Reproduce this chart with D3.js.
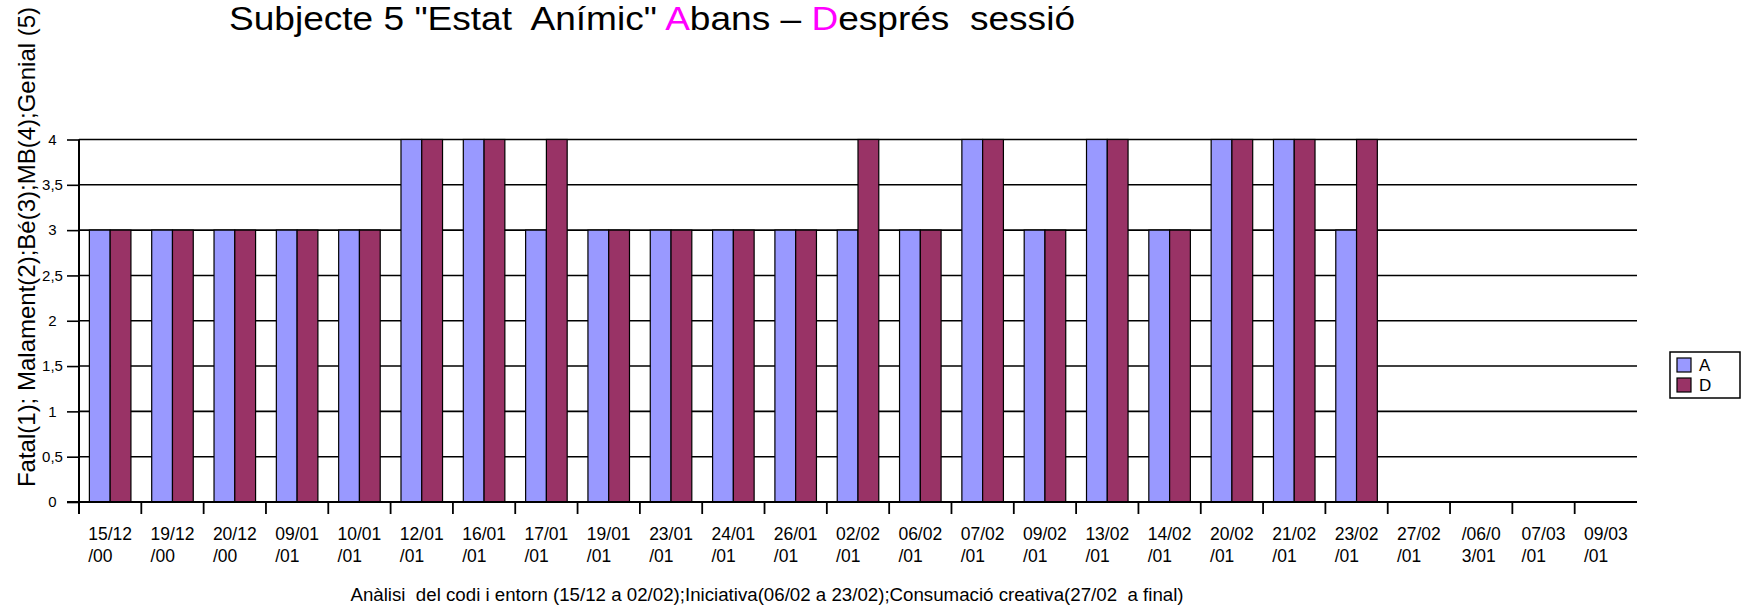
<!DOCTYPE html>
<html>
<head>
<meta charset="utf-8">
<script src="https://cdn.jsdelivr.net/npm/d3@7/dist/d3.min.js"></script>
<style>
  html, body { margin: 0; padding: 0; background: #fff; }
  svg { display: block; font-family: "Liberation Sans", Arial, sans-serif; }
</style>
</head>
<body>
<svg id="chart" width="1742" height="611"></svg>
<script>
const categories = ["15/12/00","19/12/00","20/12/00","09/01/01","10/01/01","12/01/01","16/01/01","17/01/01","19/01/01","23/01/01","24/01/01","26/01/01","02/02/01","06/02/01","07/02/01","09/02/01","13/02/01","14/02/01","20/02/01","21/02/01","23/02/01","27/02/01","/06/03/01","07/03/01","09/03/01"];
const seriesA = [3,3,3,3,3,4,4,3,3,3,3,3,3,3,4,3,4,3,4,4,3,0,0,0,0];
const seriesD = [3,3,3,3,3,4,4,4,3,3,3,3,4,3,4,3,4,3,4,4,4,0,0,0,0];
const seriesNames = ["A","D"];
const seriesColors = ["#9999FF","#993366"];
const yTicks = [0,0.5,1,1.5,2,2.5,3,3.5,4];
const titleParts = [
  {t: "Subjecte 5 \"Estat  Anímic\" ", c: "#000"},
  {t: "A", c: "#FF00FF"},
  {t: "bans – ", c: "#000"},
  {t: "D", c: "#FF00FF"},
  {t: "esprés  sessió", c: "#000"}
];
const yTitle = "Fatal(1); Malament(2);Bé(3);MB(4);Genial (5)";
const xTitle = "Anàlisi  del codi i entorn (15/12 a 02/02);Iniciativa(06/02 a 23/02);Consumació creativa(27/02  a final)";

const svg = d3.select("#chart");
const pLeft = 79, pRight = 1637, pTop = 139.5, pBottom = 502;
const x = d3.scaleBand().domain(categories).range([pLeft, pRight]).padding(0);
const bw = x.bandwidth();
const xi = d3.scaleBand().domain(seriesNames).range([bw / 6, bw * 5 / 6]).padding(0);
const y = d3.scaleLinear().domain([0, 4]).range([pBottom, pTop]);
const loc = d3.formatLocale({decimal: ",", thousands: ".", grouping: [3], currency: ["", "€"]});
const fmt = loc.format("~g");

// title
const title = svg.append("text").attr("x", 229).attr("y", 30)
  .attr("font-size", 33).attr("textLength", 846).attr("lengthAdjust", "spacingAndGlyphs")
  .attr("xml:space", "preserve").style("white-space", "pre");
titleParts.forEach(p => title.append("tspan").attr("fill", p.c).text(p.t));

// gridlines
svg.append("g").selectAll("line").data(yTicks.filter(d => d > 0)).join("line")
  .attr("x1", pLeft).attr("x2", pRight)
  .attr("y1", d => y(d)).attr("y2", d => y(d))
  .attr("stroke", "#000").attr("stroke-width", 1.6);

// bars
const data = categories.map((c, i) => ({c, vals: [seriesA[i], seriesD[i]]}));
const g = svg.append("g");
data.forEach(d => {
  d.vals.forEach((v, j) => {
    g.append("rect")
      .attr("x", x(d.c) + xi(seriesNames[j]))
      .attr("y", y(v))
      .attr("width", xi.bandwidth())
      .attr("height", y(0) - y(v))
      .attr("fill", seriesColors[j])
      .attr("stroke", "#000").attr("stroke-width", 1.2);
  });
});

// y axis title (drawn under tick labels)
svg.append("text").attr("transform", "translate(35,247) rotate(-90)").attr("text-anchor", "middle")
  .attr("font-size", 24).text(yTitle);

// y axis
const yAxis = d3.axisLeft(y).tickValues(yTicks).tickFormat(fmt).tickSize(12).tickPadding(14);
const ya = svg.append("g").attr("transform", `translate(${pLeft},0)`).call(yAxis);
ya.select(".domain").remove();
ya.selectAll(".tick line").attr("stroke", "#000").attr("stroke-width", 1.6);
ya.selectAll(".tick text").attr("font-size", 15).attr("font-family", "Liberation Sans, Arial, sans-serif")
  .attr("fill", "#000").attr("text-anchor", "middle").attr("x", 52.5 - pLeft);
svg.append("line").attr("x1", pLeft).attr("x2", pLeft).attr("y1", pTop).attr("y2", pBottom + 12)
  .attr("stroke", "#000").attr("stroke-width", 2);

// x axis
svg.append("line").attr("x1", pLeft - 12).attr("x2", pRight).attr("y1", pBottom).attr("y2", pBottom)
  .attr("stroke", "#000").attr("stroke-width", 2.2);
const xa = svg.append("g");
xa.selectAll("line").data(categories).join("line")
  .attr("x1", d => x(d)).attr("x2", d => x(d))
  .attr("y1", pBottom).attr("y2", pBottom + 12)
  .attr("stroke", "#000").attr("stroke-width", 1.8);
const labels = xa.selectAll("g.lbl").data(categories).join("g").attr("class", "lbl");
labels.each(function(d) {
  const gg = d3.select(this);
  const l1 = d.slice(0, 5), l2 = d.slice(5);
  const t1 = gg.append("text").attr("font-size", 17.5).attr("y", 540).text(l1);
  const w = t1.node().getComputedTextLength();
  const sx = x(d) + bw / 2 - w / 2;
  t1.attr("x", sx);
  gg.append("text").attr("font-size", 17.5).attr("y", 561.5).attr("x", sx).text(l2);
});

// x axis title
svg.append("text").attr("x", 767).attr("y", 601).attr("text-anchor", "middle")
  .attr("font-size", 18.7).attr("xml:space", "preserve").style("white-space", "pre").text(xTitle);

// legend
const lg = svg.append("g");
lg.append("rect").attr("x", 1670).attr("y", 352).attr("width", 70).attr("height", 46)
  .attr("fill", "#fff").attr("stroke", "#000").attr("stroke-width", 1.5);
seriesNames.forEach((n, i) => {
  lg.append("rect").attr("x", 1677).attr("y", 358 + i * 20).attr("width", 14).attr("height", 14)
    .attr("fill", seriesColors[i]).attr("stroke", "#000").attr("stroke-width", 1.2);
  lg.append("text").attr("x", 1699).attr("y", 371 + i * 20).attr("font-size", 17).text(n);
});
</script>
</body>
</html>
